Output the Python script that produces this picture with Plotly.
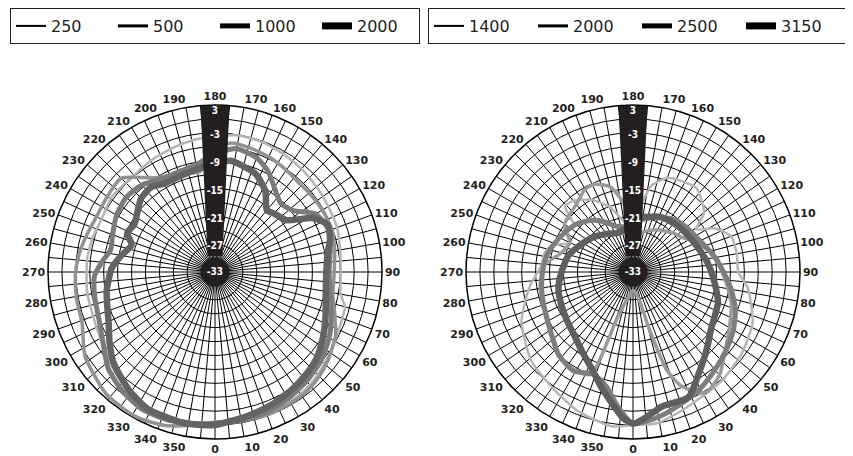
import numpy as np
import plotly.graph_objects as go

# ---------------- data (dB vs. angle in degrees) ----------------
LEFT_NAMES = ["250", "500", "1000", "2000"]
RIGHT_NAMES = ["1400", "2000", "2500", "3150"]

L250_T = [0, 10, 20, 30, 40, 50, 60, 70, 75, 80, 90, 100, 110, 120, 130, 140, 150, 160, 170, 180,
          190, 200, 210, 220, 234, 245, 255, 264, 279, 298, 314, 326, 335, 345, 352]
L250_R = [-0.3, -0.3, -0.3, -0.6, -1.2, -2.2, -3.2, -3.8, -4.0, -5.5, -5.9, -5.6, -5.0, -4.8, -4.4, -4.0, -3.6, -3.2, -3.1, -3.8,
          -4.2, -4.8, -5.3, -5.8, -5.5, -6.0, -5.6, -5.3, -5.1, -4.6, -2.7, -0.8, -0.3, -0.2, -0.2]

L500_T = [0, 10, 20, 30, 38, 45, 52, 62, 70, 79, 90, 100, 110, 120, 130, 137, 145, 155, 165, 173, 180,
          188, 201, 213, 225, 234, 245, 254, 262, 271, 281, 291, 303, 318, 327, 333, 342, 350]
L500_R = [-0.6, -0.4, -0.2, -0.4, -0.6, -1.2, -2.1, -3.6, -5.5, -7.1, -7.3, -6.8, -6.2, -6.3, -6.5, -6.6, -6.2, -5.6, -5.2, -5.0, -6.5,
          -11.0, -10.5, -8.8, -4.4, -4.6, -4.8, -4.2, -3.5, -2.9, -2.6, -2.3, 0.4, 2.2, 2.5, 2.5, 1.8, 0.6]

L1000_T = [0, 10, 20, 30, 40, 50, 60, 70, 80, 90, 100, 110, 120, 128, 136, 144, 152, 160, 170, 180,
           190, 200, 210, 220, 230, 240, 250, 258, 265, 272, 282, 292, 302, 312, 322, 332, 342, 352]
L1000_R = [-0.4, -0.6, -0.8, -1.5, -2.3, -3.2, -4.6, -6.3, -7.8, -8.4, -7.8, -6.8, -8.0, -11.5, -12.5, -11.0, -8.5, -6.8, -6.0, -7.5,
           -9.5, -10.0, -9.8, -8.5, -8.0, -8.5, -9.5, -10.0, -8.5, -7.0, -6.5, -6.0, -4.5, -2.0, -0.5, 0.5, 0.5, 0.0]

L2000_T = [0, 13, 23, 33, 41, 49, 56, 63, 70, 78, 90, 100, 106, 113, 119, 126, 134, 140, 148, 157, 165, 172, 180,
           190, 200, 210, 217, 225, 232, 239, 246, 252, 260, 268, 280, 288, 296, 304, 312, 324, 334, 347, 355]
L2000_R = [0.0, -1.2, -1.9, -2.7, -3.4, -4.2, -5.3, -6.5, -7.6, -8.6, -9.0, -8.3, -7.2, -6.7, -9.0, -14.0, -15.0, -15.6, -12.5, -10.2, -9.4, -8.8, -9.5,
           -10.5, -11.0, -11.0, -10.1, -10.5, -11.8, -12.8, -12.3, -14.1, -12.5, -10.7, -9.3, -8.6, -7.5, -5.6, -3.6, -1.5, -0.1, 0.2, 0.1]

R1400_T = [0, 9, 19, 29, 39, 53, 67, 82, 90, 100, 110, 118, 124, 130, 143, 152, 160, 168, 175, 180,
           190, 200, 210, 220, 226, 232, 238, 245, 252, 258, 265, 279, 294, 311, 325, 338, 352]
R1400_R = [0.0, 0.0, -1.3, -2.3, -2.7, -3.7, -5.0, -8.0, -10.3, -10.3, -10.5, -13.0, -16.5, -13.0, -10.3, -10.8, -11.4, -14.0, -20.0, -24.0,
           -22.0, -18.0, -15.0, -13.0, -12.6, -17.0, -15.5, -18.0, -14.5, -13.5, -13.3, -10.3, -6.7, -3.9, -2.6, -0.8, 0.6]

R2000_T = [0, 10, 16, 19, 23, 31, 40, 50, 60, 72, 85, 95, 105, 115, 125, 135, 150, 165, 178, 185,
           190, 195, 204, 211, 220, 235, 245, 255, 265, 275, 285, 295, 305, 315, 325, 333, 338, 341, 348]
R2000_R = [-29.0, -28.0, -20.0, -10.6, -6.3, -2.6, -4.0, -7.0, -9.0, -10.7, -13.0, -14.5, -16.0, -18.0, -20.0, -21.0, -22.5, -24.0, -25.0, -20.0,
           -16.7, -14.0, -12.3, -12.5, -14.0, -15.0, -18.0, -17.0, -14.0, -13.0, -12.5, -12.0, -11.0, -9.5, -8.5, -8.5, -9.3, -22.4, -27.0]

R2500_T = [0, 8, 15, 22, 30, 40, 50, 60, 70, 80, 90, 100, 110, 120, 130, 140, 150, 160, 170, 180,
           190, 200, 210, 220, 230, 240, 250, 260, 270, 280, 290, 300, 310, 318, 329, 339, 347, 354]
R2500_R = [-0.3, -1.0, -2.0, -3.0, -4.0, -5.5, -6.8, -8.0, -9.5, -11.5, -13.5, -15.0, -16.5, -17.5, -18.0, -18.5, -19.5, -20.5, -21.5, -22.0,
           -23.0, -22.5, -20.5, -18.5, -17.0, -16.0, -15.0, -14.0, -13.5, -13.0, -12.5, -11.8, -10.5, -9.0, -8.1, -9.4, -7.6, -3.5]

R3150_T = [0, 5, 12, 24, 34, 41, 48, 54, 62, 70, 79, 89, 97, 105, 118, 131, 140, 148, 157, 166, 175,
           185, 200, 215, 230, 245, 256, 271, 283, 295, 307, 317, 329, 338, 344, 350, 356]
R3150_R = [-0.3, -1.5, -3.3, -3.5, -7.3, -9.3, -11.0, -12.2, -13.0, -13.5, -14.8, -16.0, -16.8, -17.6, -18.5, -19.0, -19.3, -19.5, -20.0, -20.8, -21.0,
           -23.0, -24.0, -23.0, -21.5, -20.0, -18.6, -17.5, -16.5, -16.0, -15.3, -14.4, -12.3, -10.0, -7.5, -4.8, -1.5]

RADIAL_LABELS = [3, -3, -9, -15, -21, -27, -33]
ANGLE_TICKS = list(range(0, 360, 5))

# ---------------- style ----------------
R_MIN, R_MAX = -33, 3
COLORS = ["#b5b5b5", "#929292", "#7b7b7b", "#636363"]
COLORS_R = ["#b5b5b5", "#9a9a9a", "#7e7e7e", "#5f5f5f"]
WIDTHS = [2.5, 3.5, 5, 6.5]
LEG_WIDTHS = [2, 3, 5, 7]
INK = "#231f20"
OFF = 8                      # page body margin of the browser
W, H = 853 - OFF, 456 - OFF
RAD_PX = 167.0
CY = 272                     # circle centre (reference pixels)
CX_LEFT, CX_RIGHT = 215, 633

def closed(t, r):
    return list(t) + [t[0] + 360], list(r) + [r[0]]

def px_to_r(rho):
    return R_MIN + rho / RAD_PX * (R_MAX - R_MIN)

fig = go.Figure()

left = [(L250_T, L250_R), (L500_T, L500_R), (L1000_T, L1000_R), (L2000_T, L2000_R)]
right = [(R1400_T, R1400_R), (R2000_T, R2000_R), (R2500_T, R2500_R), (R3150_T, R3150_R)]

for sub, series, cols in (("polar", left, COLORS), ("polar2", right, COLORS_R)):
    for i, (t, r) in enumerate(series):
        tt, rr = closed(t, r)
        fig.add_trace(go.Scatterpolar(theta=tt, r=rr, mode="lines", subplot=sub, showlegend=False,
                                      line=dict(color=cols[i], width=WIDTHS[i], shape="spline", smoothing=0.6),
                                      hoverinfo="skip"))

# black band behind radial labels + centre disc
h_out, h_in, rho_in = 14.5, 7.5, 16.0
rho_out = np.sqrt(RAD_PX ** 2 - h_out ** 2)
a_out = np.degrees(np.arctan2(h_out, rho_out))
a_in = np.degrees(np.arctan2(h_in, rho_in))
d_in = np.hypot(rho_in, h_in)
band_theta = [180 - a_out, 180 + a_out, 180 + a_in, 180 - a_in, 180 - a_out]
band_r = [R_MAX, R_MAX, px_to_r(d_in), px_to_r(d_in), R_MAX]
disc_theta = np.linspace(0, 360, 91)
disc_r = np.full_like(disc_theta, px_to_r(14.0))
lab_r = [min(max(v - 0.6, R_MIN), 1.6) for v in RADIAL_LABELS]

for sub in ("polar", "polar2"):
    fig.add_trace(go.Scatterpolar(theta=band_theta, r=band_r, mode="lines", fill="toself", fillcolor=INK,
                                  line=dict(width=0, color=INK), subplot=sub, showlegend=False, hoverinfo="skip"))
    fig.add_trace(go.Scatterpolar(theta=disc_theta, r=disc_r, mode="lines", fill="toself", fillcolor=INK,
                                  line=dict(width=0, color=INK), subplot=sub, showlegend=False, hoverinfo="skip"))
    fig.add_trace(go.Scatterpolar(theta=[180] * len(RADIAL_LABELS), r=lab_r, mode="text",
                                  text=[str(v) for v in RADIAL_LABELS],
                                  textfont=dict(family="Liberation Sans Narrow, DejaVu Sans Condensed, Liberation Sans",
                                                size=10, color="white", weight="bold"),
                                  subplot=sub, showlegend=False, hoverinfo="skip"))

# legend-only traces (black samples)
for names, sub, leg in ((LEFT_NAMES, "polar", "legend"), (RIGHT_NAMES, "polar2", "legend2")):
    for i, n in enumerate(names):
        fig.add_trace(go.Scatterpolar(theta=[None], r=[None], mode="lines", name=n, subplot=sub, legend=leg,
                                      line=dict(color="black", width=LEG_WIDTHS[i])))

ticktext = [str(v) if v % 10 == 0 else "" for v in ANGLE_TICKS]

def polar_cfg(cx_ref):
    x0 = cx_ref - RAD_PX - OFF
    top, bottom = CY - RAD_PX - OFF, CY + RAD_PX - OFF
    return dict(
        domain=dict(x=[x0 / W, (x0 + 2 * RAD_PX) / W], y=[(H - bottom) / H, (H - top) / H]),
        bgcolor="white",
        radialaxis=dict(range=[R_MIN, R_MAX], tickvals=list(range(R_MIN, R_MAX + 1, 3)), showticklabels=False,
                        ticks="", showline=False, gridcolor="black", gridwidth=1, layer="below traces"),
        angularaxis=dict(rotation=270, direction="counterclockwise", tickvals=ANGLE_TICKS, ticktext=ticktext,
                         ticks="", showline=True, linecolor="black", linewidth=1.5, gridcolor="black", gridwidth=1,
                         layer="below traces",
                         tickfont=dict(family="DejaVu Sans", size=11, color=INK, weight="bold")),
    )

leg_common = dict(orientation="h", xanchor="left", yanchor="top", bordercolor=INK, borderwidth=1,
                  bgcolor="white", font=dict(family="DejaVu Sans", size=16, color=INK),
                  entrywidthmode="pixels", itemwidth=30)

fig.update_layout(
    width=W, height=H, autosize=False, margin=dict(l=0, r=0, t=0, b=0),
    paper_bgcolor="white", plot_bgcolor="white",
    polar=polar_cfg(CX_LEFT), polar2=polar_cfg(CX_RIGHT),
    legend=dict(x=(10 - OFF) / W, y=1.0, entrywidth=57, **leg_common),
    legend2=dict(x=(428 - OFF) / W, y=1.0, entrywidth=59, **leg_common),
    showlegend=True,
)

fig.write_html("out.html")
